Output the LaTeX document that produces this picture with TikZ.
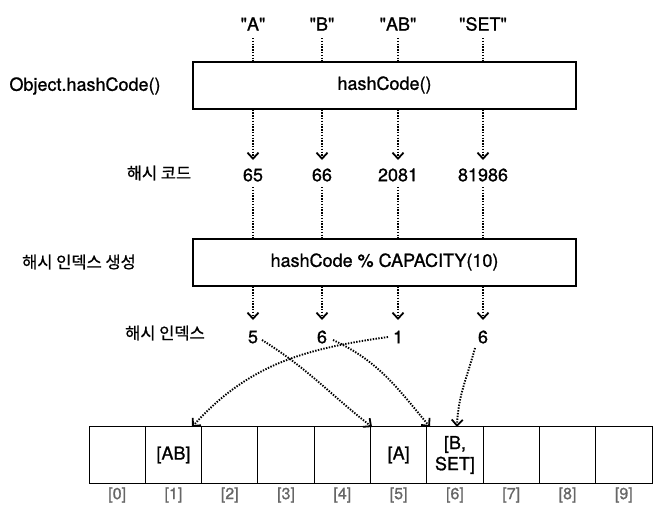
\documentclass[tikz,border=0pt]{standalone}
\usepackage{fontspec}
\setmainfont{TeX Gyre Heros}[FakeBold=1]
\newfontfamily\latfont{TeX Gyre Heros}[FakeBold=1]
\newfontfamily\krfont{Noto Sans CJK KR}[FakeBold=0.8]
\usetikzlibrary{arrows.meta}
\newcommand{\qq}[1]{\char34\relax#1\char34\relax}
\begin{document}
\begin{tikzpicture}[x=1pt,y=-1pt,
  lbl/.style={font=\latfont\fontsize{18}{20}\selectfont, inner sep=0pt},
  krlbl/.style={font=\krfont\fontsize{16.5}{18}\selectfont, inner sep=0pt},
  funcbox/.style={draw, line width=2pt, minimum width=383pt, minimum height=47pt, inner sep=0pt, font=\latfont\fontsize{18}{20}\selectfont},
  cell/.style={draw, line width=0.9pt, minimum width=56.3pt, minimum height=57pt, inner sep=0pt, align=center, font=\latfont\fontsize{18}{21}\selectfont},
  idx/.style={font=\latfont\fontsize{16}{17}\selectfont, text=black!60, inner sep=0pt},
  dotline/.style={line width=1.9pt, dash pattern=on 1.4pt off 1.4pt},
  dotarrow/.style={dotline, -{Straight Barb[length=6pt,width=11pt,line width=1.8pt]}}
]
\useasboundingbox (0,0) rectangle (664,514);
% inputs
\node[lbl] (q1) at (253,24) {\qq{A}};
\node[lbl] (q2) at (322,24) {\qq{B}};
\node[lbl] (q3) at (398,24) {\qq{AB}};
\node[lbl] (q4) at (483,24) {\qq{SET}};
% boxes
\node[funcbox] (b1) at (384.5,85) {hashCode()};
\node[funcbox] (b2) at (384.5,262) {hashCode \% CAPACITY(10)};
% left labels
\node[lbl] (t1) at (85,86) {Object.hashCode()};
\node[krlbl] (t2) at (159,173) {해시 코드};
\node[krlbl] (t3) at (79,262) {해시 인덱스 생성};
\node[krlbl] (t4) at (165,333) {해시 인덱스};
% hash codes
\node[lbl] (h1) at (253,175) {65};
\node[lbl] (h2) at (322,175) {66};
\node[lbl] (h3) at (398,175) {2081};
\node[lbl] (h4) at (483,175) {81986};
% indices
\node[lbl] (i1) at (253,337) {5};
\node[lbl] (i2) at (322,337) {6};
\node[lbl] (i3) at (398,337) {1};
\node[lbl] (i4) at (483,337) {6};
% array
\foreach \k/\t in {0/,1/[AB],2/,3/,4/,5/[A],6/{[B,\\SET]},7/,8/,9/}{
  \node[cell] (c\k) at ({89+28.15+56.3*\k},455) {\t};
  \node[idx] (l\k) at ({89+28.15+56.3*\k},495) {[\k]};
}
% connectors top
\foreach \n in {1,2,3,4}{
  \draw[dotline] ([yshift=-14pt]q\n.center) -- (q\n |- b1.north);
  \draw[dotarrow] (h\n |- b1.south) -- ([yshift=15pt]h\n.center);
  \draw[dotline] ([yshift=-12pt]h\n.center) -- (h\n |- b2.north);
  \draw[dotarrow] (i\n |- b2.south) -- ([yshift=17pt]i\n.center);
}
% index arrows
\coordinate (e5) at (372,427);
\coordinate (e6a) at (430,427);
\coordinate (e1) at (192,427);
\coordinate (e6b) at (457,427);
\draw[dotarrow] ([xshift=9pt,yshift=-3pt]i1.center) to[out=-32,in=142] (e5);
\draw[dotarrow] ([xshift=11pt,yshift=-3pt]i2.center) to[out=-25,in=130] (e6a);
\draw[dotarrow] ([xshift=-10pt,yshift=0pt]i3.center) to[out=188,in=48] (e1);
\draw[dotarrow] ([xshift=-8pt,yshift=-11pt]i4.center) to[out=-105,in=88] (e6b);
\end{tikzpicture}
\end{document}
